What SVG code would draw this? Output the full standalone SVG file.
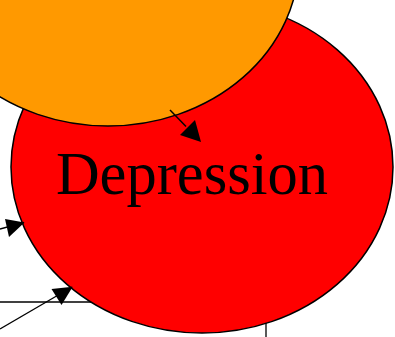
<svg xmlns="http://www.w3.org/2000/svg" width="395" height="337" viewBox="0 0 395 337">
<defs>
<style>
.node{stroke:#000;stroke-width:1.5}
.edge{stroke:#000;stroke-width:1.3;fill:none}
.head{fill:#000}
.lbl{font-family:"Liberation Serif","Times New Roman",serif;font-size:60.5px;fill:#000}
</style>
</defs>
<g id="node-depression">
<ellipse class="node" cx="202" cy="167" rx="191" ry="166" fill="#ff0000"/>
<text class="lbl" x="192" y="194" text-anchor="middle">Depression</text>
</g>
<g id="node-orange">
<ellipse class="node" cx="108" cy="-40" rx="191" ry="166" fill="#ff9900"/>
</g>
<g id="connectors">
<path class="edge" d="M170,110 L186,126.5" style="stroke-width:1.5"/>
<path class="head" d="M201,142 L180,135 L195,120 z"/>
<line class="edge" x1="0" y1="229" x2="24" y2="222.5"/>
<path class="head" d="M24.5,222.5 L9,237 L5,219 z"/>
<line class="edge" x1="0" y1="329" x2="72" y2="287"/>
<path class="head" d="M72.7,286.7 L51.5,289 L61.5,305 z"/>
<line class="edge" x1="0" y1="302" x2="91" y2="302"/>
<line class="edge" x1="266" y1="323" x2="266" y2="337"/>
</g>
</svg>
